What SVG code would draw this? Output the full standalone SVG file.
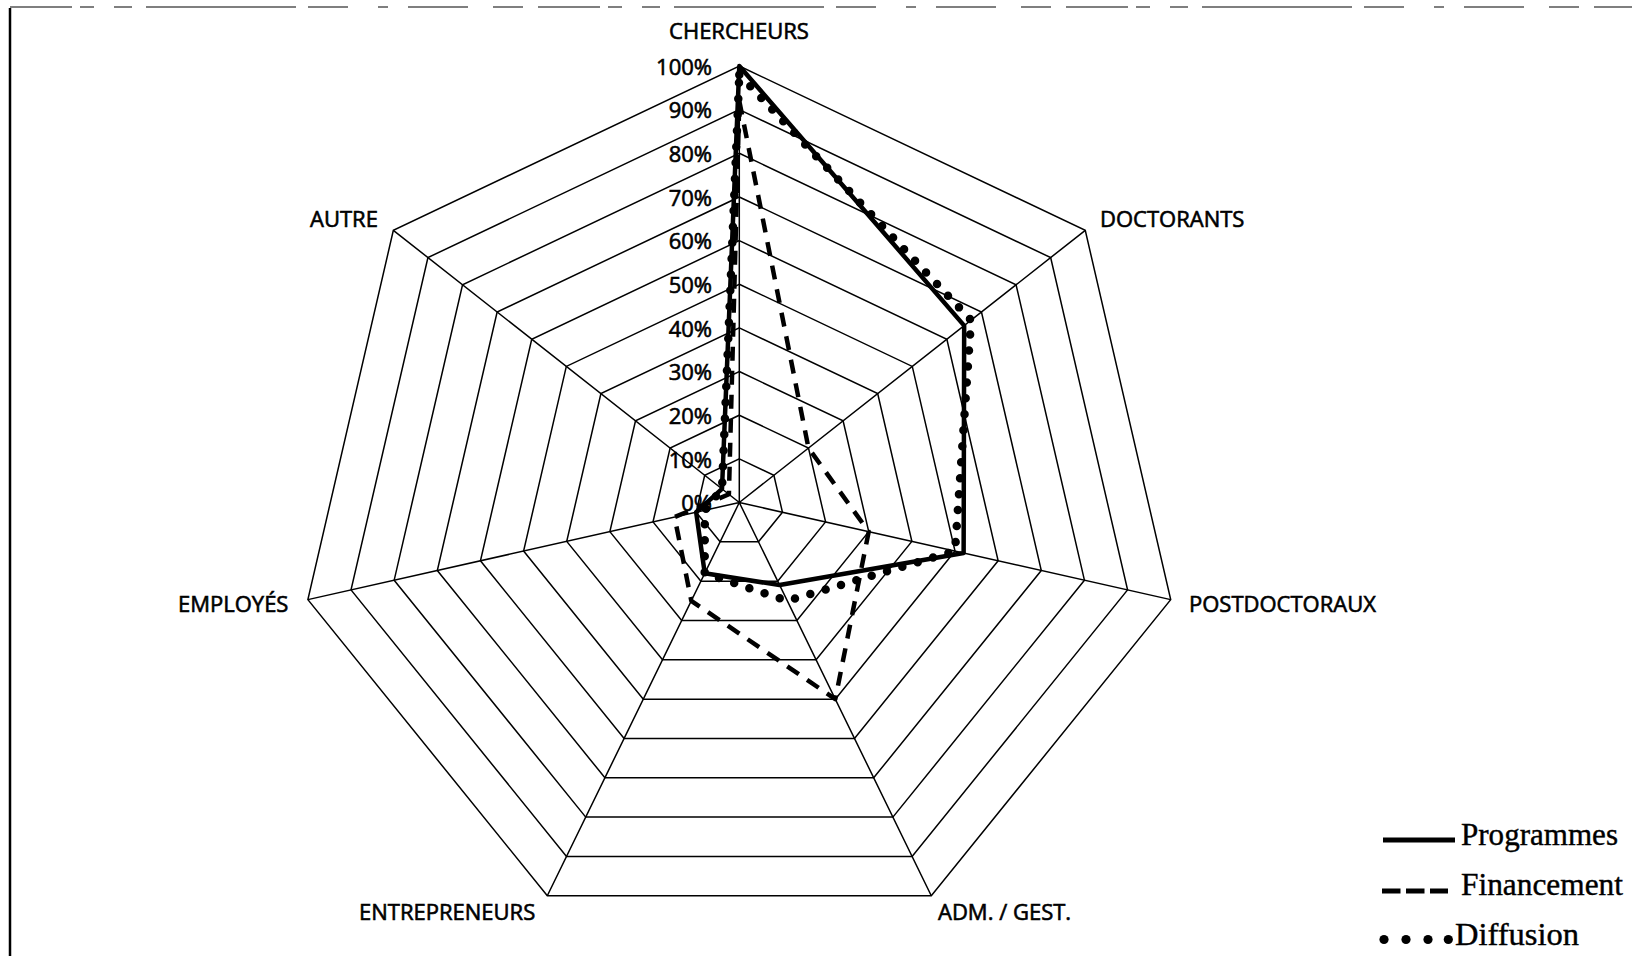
<svg xmlns="http://www.w3.org/2000/svg" width="1632" height="956" viewBox="0 0 1632 956">
<style>
.grid{fill:none;stroke:#000;stroke-width:1.5;stroke-linejoin:miter}
.lbl{font-family:"Open Sans","Liberation Sans",sans-serif;font-size:22px;fill:#000;stroke:#000;stroke-width:0.6}
.pct{font-family:"Open Sans","Liberation Sans",sans-serif;font-size:22px;fill:#000;stroke:#000;stroke-width:0.6;text-anchor:end}
.leg{font-family:"Liberation Serif","Times New Roman",serif;font-size:31px;fill:#000;stroke:#000;stroke-width:0.4}
.s-prog{fill:none;stroke:#000;stroke-width:4.5;stroke-linejoin:round}
.s-fin{fill:none;stroke:#000;stroke-width:4.5;stroke-dasharray:14 10;stroke-linejoin:round}
.s-dif{fill:none;stroke:#000;stroke-width:8.5;stroke-dasharray:0 16;stroke-linecap:round;stroke-linejoin:round}
</style>
<rect x="0" y="0" width="1632" height="956" fill="#fff"/>
<g id="frame">
<line x1="10" y1="8" x2="10" y2="956" stroke="#000" stroke-width="2.5"/>
<line x1="10" y1="7" x2="1632" y2="7" stroke="#000" stroke-width="1.2" stroke-dasharray="62 8 14 20 18 14 150 12 40 30 10 20 60 25 30 15"/>
</g>
<g id="grid" class="grid">
<polygon points="739.3,458.85 773.9,475.29 782.44,512.21 758.5,541.83 720.1,541.83 696.16,512.21 704.7,475.29"/>
<polygon points="739.3,415.2 808.49,448.07 825.58,521.93 777.7,581.15 700.9,581.15 653.02,521.93 670.11,448.07"/>
<polygon points="739.3,371.55 843.09,420.86 868.72,531.64 796.9,620.48 681.7,620.48 609.88,531.64 635.51,420.86"/>
<polygon points="739.3,327.9 877.68,393.64 911.86,541.35 816.1,659.81 662.5,659.81 566.74,541.35 600.92,393.64"/>
<polygon points="739.3,284.25 912.28,366.43 955.01,551.07 835.3,699.14 643.3,699.14 523.6,551.07 566.32,366.43"/>
<polygon points="739.3,240.6 946.88,339.21 998.15,560.78 854.49,738.46 624.11,738.46 480.45,560.78 531.72,339.21"/>
<polygon points="739.3,196.95 981.47,312.0 1041.29,570.49 873.69,777.79 604.91,777.79 437.31,570.49 497.13,312.0"/>
<polygon points="739.3,153.3 1016.07,284.78 1084.43,580.2 892.89,817.12 585.71,817.12 394.17,580.2 462.53,284.78"/>
<polygon points="739.3,109.65 1050.66,257.57 1127.57,589.92 912.09,856.44 566.51,856.44 351.03,589.92 427.94,257.57"/>
<polygon points="739.3,66.0 1085.26,230.35 1170.71,599.63 931.29,895.77 547.31,895.77 307.89,599.63 393.34,230.35"/>
<path d="M739.3,502.5L739.3,66.0M739.3,502.5L1085.26,230.35M739.3,502.5L1170.71,599.63M739.3,502.5L931.29,895.77M739.3,502.5L547.31,895.77M739.3,502.5L307.89,599.63M739.3,502.5L393.34,230.35"/>
</g>
<g id="scale">
<text class="pct" x="712" y="74.5">100%</text>
<text class="pct" x="712" y="118">90%</text>
<text class="pct" x="712" y="162">80%</text>
<text class="pct" x="712" y="205.5">70%</text>
<text class="pct" x="712" y="249">60%</text>
<text class="pct" x="712" y="293">50%</text>
<text class="pct" x="712" y="336.5">40%</text>
<text class="pct" x="712" y="380">30%</text>
<text class="pct" x="712" y="424">20%</text>
<text class="pct" x="712" y="467.5">10%</text>
<text class="pct" x="712" y="511">0%</text>
</g>
<g id="axis-labels">
<text id="lbl-chercheurs" class="lbl" x="739" y="39" text-anchor="middle">CHERCHEURS</text>
<text id="lbl-doctorants" class="lbl" x="1100" y="227">DOCTORANTS</text>
<text id="lbl-postdoc" class="lbl" x="1189" y="611.5">POSTDOCTORAUX</text>
<text id="lbl-adm" class="lbl" x="938" y="919.5">ADM. / GEST.</text>
<text id="lbl-entre" class="lbl" x="359" y="919.5">ENTREPRENEURS</text>
<text id="lbl-employes" class="lbl" x="178" y="612">EMPLOYÉS</text>
<text id="lbl-autre" class="lbl" x="310" y="226.5">AUTRE</text>
</g>
<g id="series">
<polygon id="programmes" class="s-prog" points="739.3,66.0 964.17,325.6 963.63,553.0 779.62,585.09 704.74,573.29 696.16,512.21 722.0,488.9"/>
<polygon id="financement" class="s-fin" points="739.3,100.9 808.49,448.07 868.72,531.64 835.3,699.14 691.3,600.8 674.6,517.1 728.9,494.3"/>
<polygon id="diffusion" class="s-dif" points="739.3,74.7 971.1,320.2 955.0,551.1 787.3,600.8 704.7,573.3 704.8,510.3 722.0,488.9"/>
</g>
<g id="legend">
<line x1="1383" y1="840" x2="1455" y2="840" stroke="#000" stroke-width="5"/>
<text class="leg" x="1461" y="845" textLength="157" lengthAdjust="spacingAndGlyphs">Programmes</text>
<line x1="1382" y1="891" x2="1448" y2="891" stroke="#000" stroke-width="5" stroke-dasharray="18.5 5.5"/>
<text class="leg" x="1461" y="895" textLength="162" lengthAdjust="spacingAndGlyphs">Financement</text>
<g fill="#000"><circle cx="1384" cy="939.5" r="4.6"/><circle cx="1406" cy="939.5" r="4.6"/><circle cx="1428" cy="939.5" r="4.6"/><circle cx="1448.3" cy="939.5" r="4.6"/></g>
<text class="leg" x="1455" y="945" textLength="124" lengthAdjust="spacingAndGlyphs">Diffusion</text>
</g>
</svg>
